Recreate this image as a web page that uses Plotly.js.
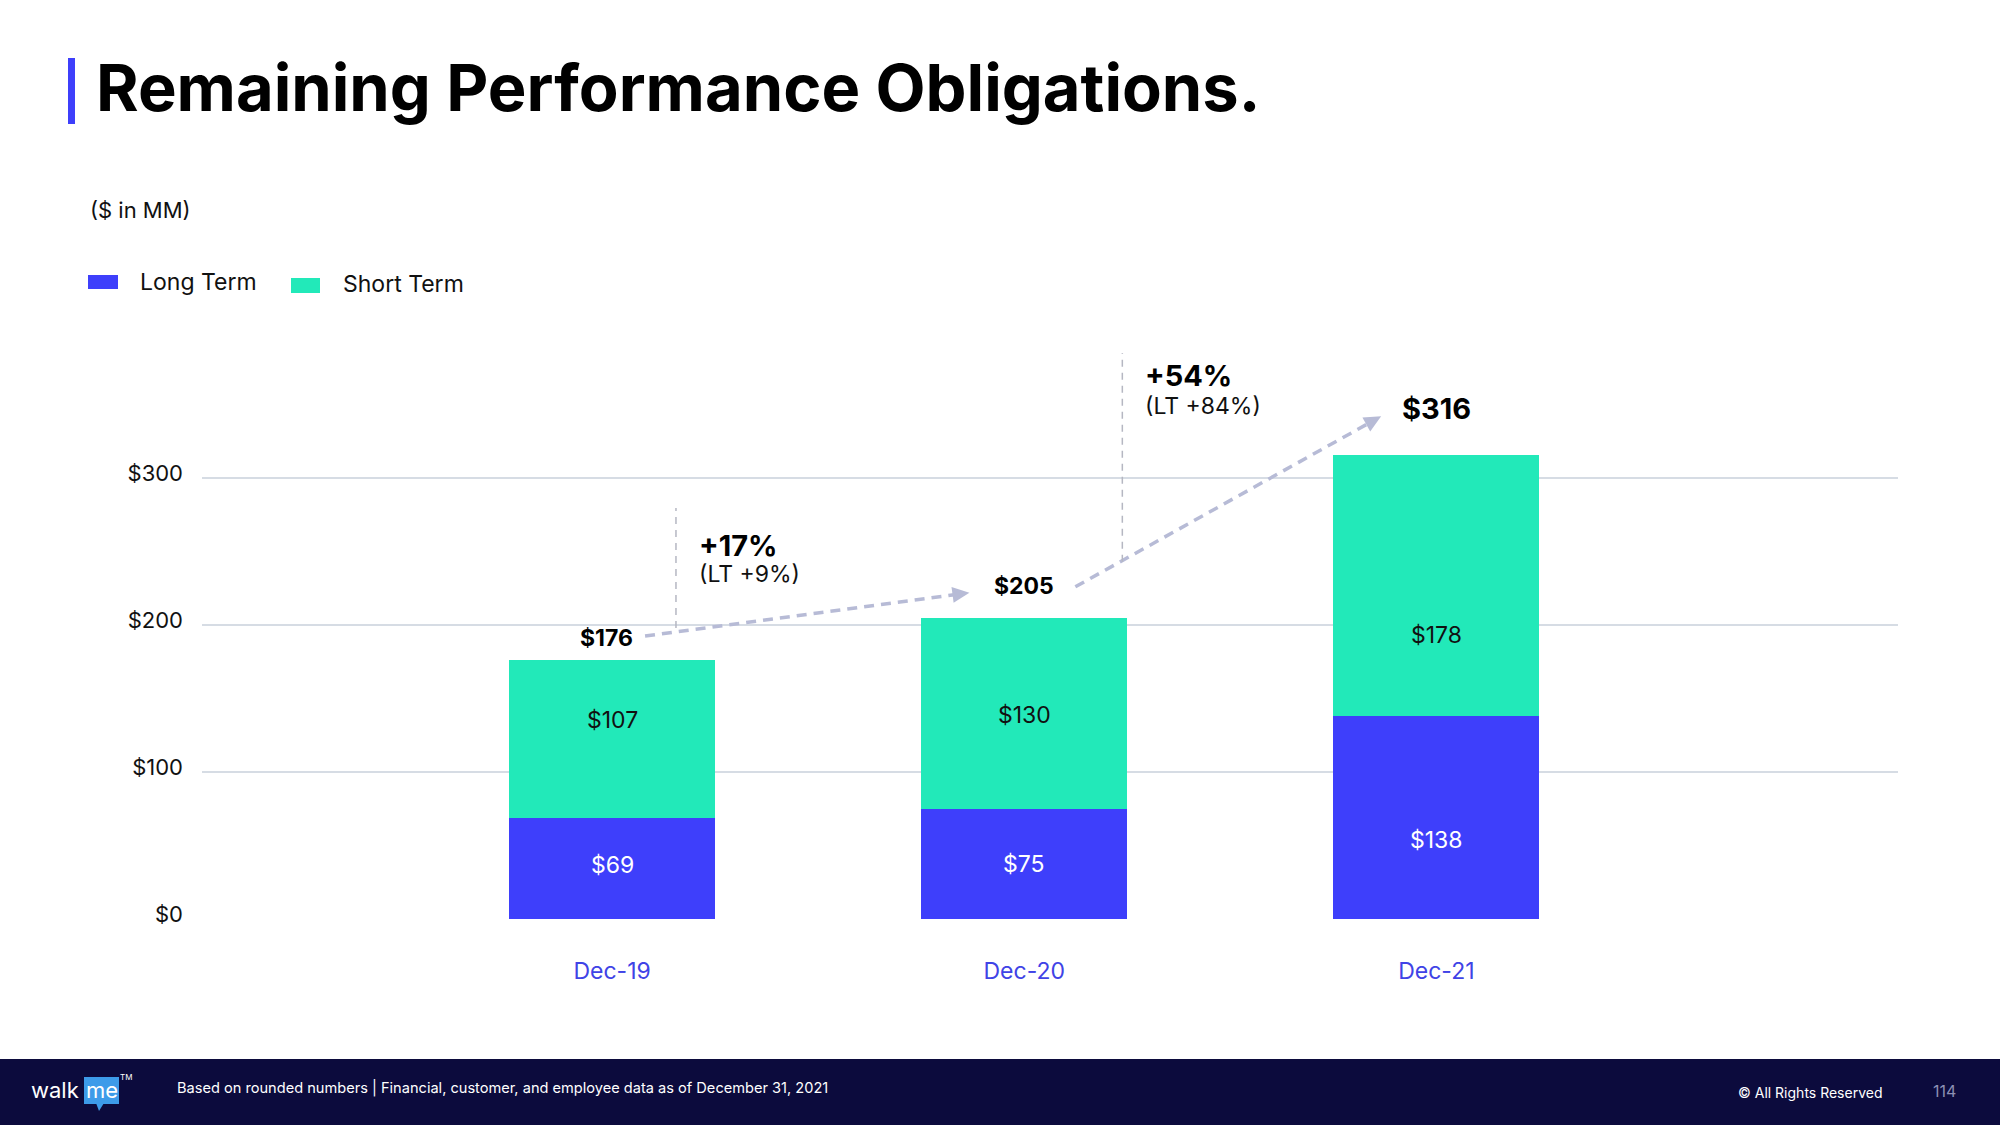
<!DOCTYPE html>
<html>
<head>
<meta charset="utf-8">
<script src="https://cdn.plot.ly/plotly-3.0.1.min.js"></script>
<style>html,body{margin:0;padding:0;background:#fff;}#chart{width:2000px;height:1125px;}</style>
</head>
<body>
<div id="chart"></div>
<script>
// ---- data ----
const categories = ['Dec-19', 'Dec-20', 'Dec-21'];
const seriesNames = ['Long Term', 'Short Term'];
const longTerm = [69, 75, 138];
const shortTerm = [107, 130, 178];
const totals = [176, 205, 316];
const growthTotal = ['+17%', '+54%'];
const growthLT = ['(LT +9%)', '(LT +84%)'];
const yTickVals = [0, 100, 200, 300];
const yTickText = ['$0', '$100', '$200', '$300'];

// ---- styling / layout helpers ----
const FONT = 'Inter, "Open Sans", sans-serif';
const BLUE = '#3e3ffb';
const TEAL = '#22e9b9';
const ARROW = '#b7bbd6';
const W = 2000, H = 1125, ML = 202, MR = 102, MT = 335, MB = 206;
const PW = W - ML - MR, PH = H - MT - MB;
const YMAX = 397.3;
const px = x => (x - ML) / PW;
const py = y => (H - MB - y) / PH;
const pxPerX = PW / 4.115, pxPerY = PH / YMAX;

const traces = [
  {type: 'bar', name: seriesNames[0], x: categories, y: longTerm, marker: {color: BLUE}, hoverinfo: 'skip'},
  {type: 'bar', name: seriesNames[1], x: categories, y: shortTerm, marker: {color: TEAL}, hoverinfo: 'skip'}
];

const annotations = [];
const shapes = [];

// segment value labels (placed at segment middle, nudged like the original slide)
const ltShift = [3, 0, -22];
const stShift = [19, -2, -50];
categories.forEach((c, i) => {
  annotations.push({x: c, y: longTerm[i] / 2, xref: 'x', yref: 'y', yshift: ltShift[i],
    text: '$' + longTerm[i], showarrow: false, font: {family: FONT, size: 23, color: '#ffffff'}});
  annotations.push({x: c, y: longTerm[i] + shortTerm[i] / 2, xref: 'x', yref: 'y', yshift: stShift[i],
    text: '$' + shortTerm[i], showarrow: false, font: {family: FONT, size: 23, color: '#111111'}});
});

// totals above bars
const totalShift = [22, 32, 46];
const totalSize = [23, 23, 29];
categories.forEach((c, i) => {
  annotations.push({
    x: c, y: totals[i], xref: 'x', yref: 'y', yanchor: 'middle', yshift: totalShift[i], xshift: i === 0 ? -6 : 0,
    text: '<b>$' + totals[i] + '</b>', showarrow: false,
    font: {family: FONT, size: totalSize[i], color: '#000'}
  });
});

// growth arrows (dashed line + arrow head)
const arrowDefs = [
  {x0: 0.08, y0: totals[0] + 16.5, x1: 0.867, y1: totals[1] + 17},
  {x0: 1.124, y0: totals[1] + 21, x1: 1.866, y1: totals[2] + 26}
];
arrowDefs.forEach(a => {
  const dx = (a.x1 - a.x0) * pxPerX, dy = (a.y1 - a.y0) * pxPerY; // dy positive = up
  const L = Math.hypot(dx, dy);
  const ux = dx / L, uy = dy / L;
  const back = 8;
  shapes.push({type: 'line', xref: 'x', yref: 'y', x0: a.x0, y0: a.y0,
    x1: a.x1 - ux * back / pxPerX, y1: a.y1 - uy * back / pxPerY,
    line: {color: ARROW, width: 3.5, dash: '10px,7px'}});
  const len = 17, hw = 8;
  const bx = -ux * len, by = -uy * len;
  const p1x = bx - uy * hw, p1y = by + ux * hw;
  const p2x = bx + uy * hw, p2y = by - ux * hw;
  shapes.push({type: 'path', xref: 'x', yref: 'y', xsizemode: 'pixel', ysizemode: 'pixel',
    xanchor: a.x1, yanchor: a.y1,
    path: 'M 0 0 L ' + p1x.toFixed(2) + ' ' + p1y.toFixed(2) + ' L ' + p2x.toFixed(2) + ' ' + p2y.toFixed(2) + ' Z',
    fillcolor: ARROW, line: {width: 0}});
});

// vertical dashed separators and growth labels
const sepDefs = [
  {x: 0.155, y0: 198, y1: 279.6, ty: 254.4, ly: 234.7},
  {x: 1.238, y0: 243, y1: 385, ty: 370, ly: 349}
];
sepDefs.forEach((s, k) => {
  shapes.push({type: 'line', xref: 'x', yref: 'y', x0: s.x, x1: s.x, y0: s.y0, y1: s.y1,
    line: {color: '#b5b7c2', width: 1.5, dash: '7px,6px'}});
  annotations.push({x: s.x, y: s.ty, xref: 'x', yref: 'y', xanchor: 'left', yanchor: 'middle', xshift: 21,
    text: '<b>' + growthTotal[k] + '</b>', showarrow: false, font: {family: FONT, size: 29, color: '#000'}});
  annotations.push({x: s.x, y: s.ly, xref: 'x', yref: 'y', xanchor: 'left', yanchor: 'middle', xshift: 21,
    text: growthLT[k], showarrow: false, font: {family: FONT, size: 23, color: '#111'}});
});

// title accent bar
shapes.push({type: 'rect', xref: 'paper', yref: 'paper', x0: px(68), x1: px(75), y0: py(124), y1: py(58),
  fillcolor: BLUE, line: {width: 0}});

// units note
annotations.push({xref: 'paper', yref: 'paper', x: px(88), y: py(210), xanchor: 'left', yanchor: 'middle',
  text: '($ in MM)', showarrow: false, font: {family: FONT, size: 22, color: '#111'}});

// legend (manual)
const legendDefs = [
  {name: seriesNames[0], color: BLUE, x0: 88, x1: 118, y0: 275, y1: 289, tx: 138, ty: 282},
  {name: seriesNames[1], color: TEAL, x0: 291, x1: 320, y0: 278, y1: 293, tx: 341, ty: 284}
];
legendDefs.forEach(l => {
  shapes.push({type: 'rect', xref: 'paper', yref: 'paper', x0: px(l.x0), x1: px(l.x1), y0: py(l.y1), y1: py(l.y0),
    fillcolor: l.color, line: {width: 0}});
  annotations.push({xref: 'paper', yref: 'paper', x: px(l.tx), y: py(l.ty), xanchor: 'left', yanchor: 'middle',
    text: l.name, showarrow: false, font: {family: FONT, size: 23, color: '#111'}});
});

// footer band
shapes.push({type: 'rect', xref: 'paper', yref: 'paper', x0: px(0), x1: px(W), y0: py(H), y1: py(1059),
  fillcolor: '#0c0b3d', line: {width: 0}, layer: 'above'});
annotations.push({xref: 'paper', yref: 'paper', x: px(175), y: py(1088), xanchor: 'left', yanchor: 'middle',
  text: 'Based on rounded numbers | Financial, customer, and employee data as of December 31, 2021',
  showarrow: false, font: {family: FONT, size: 14.6, color: '#ffffff'}});
annotations.push({xref: 'paper', yref: 'paper', x: px(1884), y: py(1092), xanchor: 'right', yanchor: 'middle',
  text: '© All Rights Reserved', showarrow: false, font: {family: FONT, size: 14, color: '#ffffff'}});
annotations.push({xref: 'paper', yref: 'paper', x: px(1958), y: py(1091), xanchor: 'right', yanchor: 'middle',
  text: '114', showarrow: false, font: {family: FONT, size: 16, color: '#8c90b4'}});
// logo
shapes.push({type: 'rect', xref: 'paper', yref: 'paper', x0: px(84), x1: px(119), y0: py(1104), y1: py(1077),
  fillcolor: '#3d9be9', line: {width: 0}, layer: 'above'});
shapes.push({type: 'path', xref: 'paper', yref: 'paper',
  path: 'M ' + px(96) + ' ' + py(1103) + ' L ' + px(104) + ' ' + py(1103) + ' L ' + px(99) + ' ' + py(1111) + ' Z',
  fillcolor: '#3d9be9', line: {width: 0}, layer: 'above'});
annotations.push({xref: 'paper', yref: 'paper', x: px(29), y: py(1090), xanchor: 'left', yanchor: 'middle',
  text: 'walk', showarrow: false, font: {family: FONT, size: 22, color: '#ffffff'}});
annotations.push({xref: 'paper', yref: 'paper', x: px(101.5), y: py(1090), xanchor: 'center', yanchor: 'middle',
  text: 'me', showarrow: false, font: {family: FONT, size: 22, color: '#ffffff'}});
annotations.push({xref: 'paper', yref: 'paper', x: px(118), y: py(1077), xanchor: 'left', yanchor: 'middle',
  text: 'TM', showarrow: false, font: {family: FONT, size: 8, color: '#ffffff'}});

const layout = {
  width: W, height: H,
  margin: {l: ML, r: MR, t: MT, b: MB},
  paper_bgcolor: '#ffffff', plot_bgcolor: '#ffffff',
  barmode: 'stack', bargap: 0.5,
  showlegend: false,
  title: {
    text: '<b>Remaining Performance Obligations.</b>',
    xref: 'container', yref: 'container', x: 96 / W, xanchor: 'left', y: 1 - 88 / H, yanchor: 'middle',
    font: {family: FONT, size: 65, color: '#000', weight: 800}
  },
  xaxis: {
    type: 'category', range: [-0.995, 3.12], showgrid: false, zeroline: false, showline: false,
    ticks: '', ticklabelstandoff: 36,
    tickfont: {family: FONT, size: 23, color: '#4043e6'}, fixedrange: true
  },
  yaxis: {
    range: [0, YMAX], tickvals: yTickVals, ticktext: yTickText,
    showgrid: true, gridcolor: '#d6dce4', gridwidth: 2, zeroline: false, showline: false,
    ticks: '', ticklabelstandoff: 18, ticklabelshift: -5,
    tickfont: {family: FONT, size: 22, color: '#111'}, fixedrange: true
  },
  shapes: shapes,
  annotations: annotations
};

Plotly.newPlot('chart', traces, layout, {staticPlot: true, displayModeBar: false});
</script>
</body>
</html>
